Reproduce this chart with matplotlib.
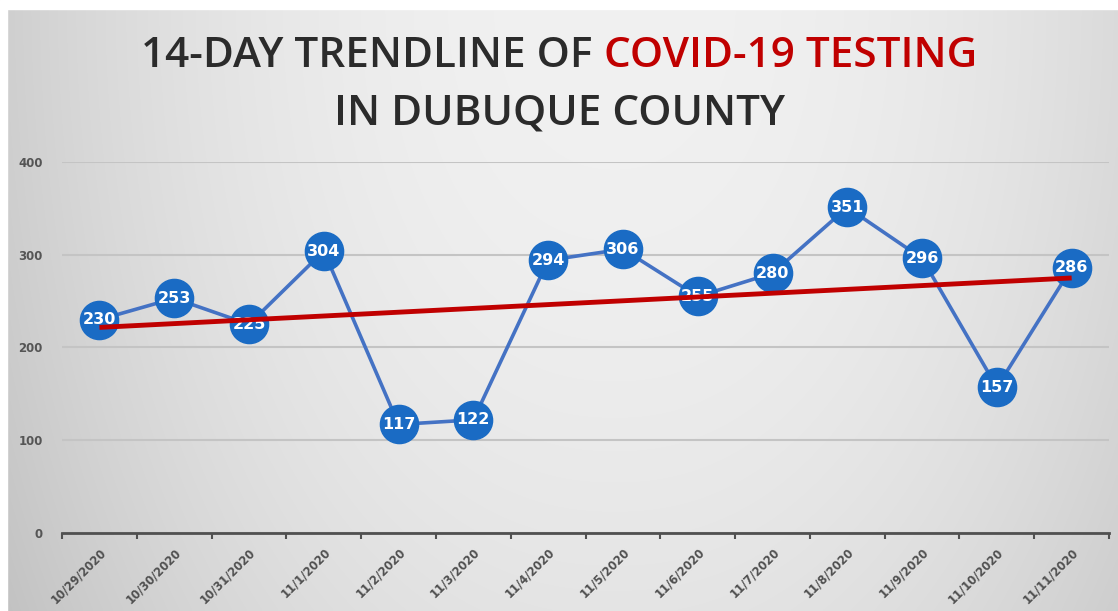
import matplotlib
matplotlib.use("Agg")
import matplotlib.pyplot as plt
import numpy as np

# data
dates = ["10/29/2020", "10/30/2020", "10/31/2020", "11/1/2020", "11/2/2020",
         "11/3/2020", "11/4/2020", "11/5/2020", "11/6/2020", "11/7/2020",
         "11/8/2020", "11/9/2020", "11/10/2020", "11/11/2020"]
tests = [230, 253, 225, 304, 117, 122, 294, 306, 255, 280, 351, 296, 157, 286]
y_ticks = [0, 100, 200, 300, 400]

title_dark = "14-DAY TRENDLINE OF "
title_red = "COVID-19 TESTING"
title_line2 = "IN DUBUQUE COUNTY"

plt.rcParams['font.family'] = ['DejaVu Sans']

fig = plt.figure(figsize=(11.18, 6.11), dpi=100)

# gray gradient background, lighter towards the middle
bg = fig.add_axes([0, 0, 1, 1], zorder=-5)
gx, gy = np.meshgrid(np.linspace(-1, 1, 400), np.linspace(0, 1, 220))
shade = 0.945 - 0.11 * np.abs(gx - 0.1) ** 2.2 - 0.05 * (1 - gy) ** 2
bg.imshow(np.dstack([shade] * 3), aspect='auto', extent=[0, 1, 0, 1],
          origin='lower', interpolation='bilinear')
bg.axhspan(0.985, 1.0, color='white')
bg.axvspan(0, 0.0063, color='white')
bg.set_xlim(0, 1)
bg.set_ylim(0, 1)
bg.axis('off')

ax = fig.add_axes([0.0555, 0.1277, 0.9365, 0.6072])
ax.set_facecolor('none')
x = np.arange(len(tests))

ax.plot(x, tests, color='#4472c4', lw=2.6, zorder=3)
ax.plot(x, tests, 'o', ms=27.5, color='#1a6bc4', mec='#1a6bc4', zorder=4)
for xi, v in zip(x, tests):
    ax.text(xi, v, str(v), ha='center', va='center', color='white',
            fontsize=11.5, fontweight='bold', zorder=5)

# linear trendline
coef = np.polyfit(x, tests, 1)
ax.plot([x[0], x[-1]], np.polyval(coef, [x[0], x[-1]]), color='#c00000',
        lw=3.5, solid_capstyle='butt', zorder=6)

ax.set_xlim(-0.5, len(tests) - 0.5)
ax.set_ylim(0, 400)
ax.set_yticks(y_ticks)
ax.yaxis.grid(True, color='#c4c4c4', lw=1.5)
ax.set_axisbelow(True)
ax.tick_params(axis='y', length=0, pad=14, labelsize=8.5, labelcolor='#555555')
for lab in ax.get_yticklabels():
    lab.set_fontweight('bold')

ax.set_xticks(x)
ax.set_xticklabels(dates, rotation=45, ha='right', rotation_mode='anchor',
                   fontsize=8.3, fontweight='bold', color='#505050')
ax.set_xticks(np.arange(len(tests) + 1) - 0.5, minor=True)
ax.tick_params(axis='x', which='major', length=0, pad=9)
ax.tick_params(axis='x', which='minor', length=4, width=1.5, color='#505050')

for s in ['top', 'right', 'left']:
    ax.spines[s].set_visible(False)
ax.spines['bottom'].set_color('#505050')
ax.spines['bottom'].set_linewidth(2)

# two-colour title line, sized to the reference width
title_font = ['Open Sans']
fig.canvas.draw()
rend = fig.canvas.get_renderer()
t1 = fig.text(0, 0.908, title_dark, fontsize=30, color='#2b2b2b',
              family=title_font, fontweight='semibold', va='center')
t2 = fig.text(0, 0.908, title_red, fontsize=30, color='#c00000',
              family=title_font, fontweight='semibold', va='center')
w = t1.get_window_extent(rend).width + t2.get_window_extent(rend).width
fs = 30 * 835 / w
t1.set_fontsize(fs)
t2.set_fontsize(fs)
w1 = t1.get_window_extent(rend).width
w2 = t2.get_window_extent(rend).width
W = fig.bbox.width
x0 = (W - (w1 + w2)) / 2 / W
t1.set_x(x0)
t2.set_x(x0 + w1 / W)
fig.text(0.5, 0.815, title_line2, fontsize=fs, color='#2b2b2b',
         family=title_font, fontweight='semibold', ha='center', va='center')

fig.savefig('out.png', dpi=100)
